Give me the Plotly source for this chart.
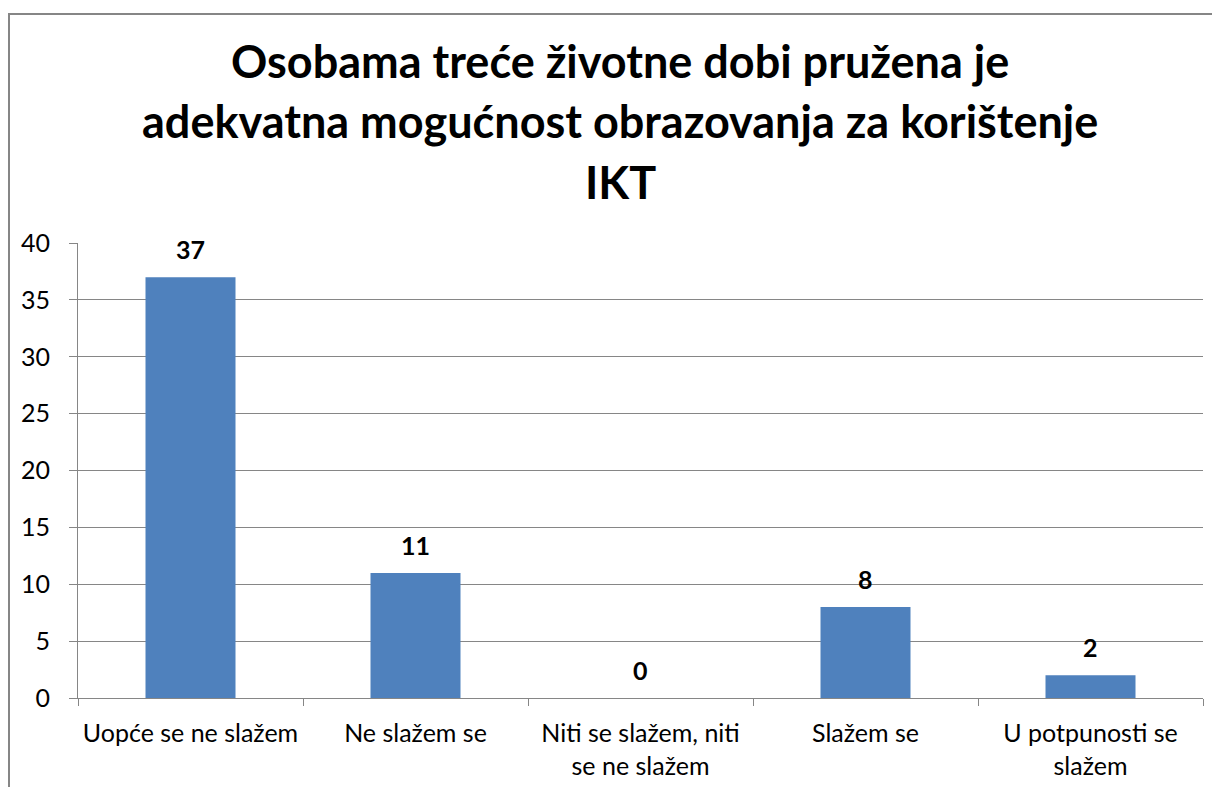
import plotly.graph_objects as go

categories = ["Uopće se ne slažem", "Ne slažem se", "Niti se slažem, niti<br>se ne slažem", "Slažem se", "U potpunosti se<br>slažem"]
values = [37, 11, 0, 8, 2]
title_lines = ["Osobama treće životne dobi pružena je", "adekvatna mogućnost obrazovanja za korištenje", "IKT"]
y_ticks = [0, 5, 10, 15, 20, 25, 30, 35, 40]

OFF = 8  # page body margin
W, H = 1220 - OFF, 787 - OFF
# screen-pixel plot area: x 78..1203, y 243..698
L = 78 - OFF
T = 243 - OFF
R = W - (1203 - OFF)
B = H - (698 - OFF)
pw, ph = W - L - R, H - T - B

def px_x(sx):
    return (sx - OFF - L) / pw

def px_y(sy):
    return (H - B - (sy - OFF)) / ph

FONT = "Lato, Open Sans, sans-serif"
GRID = "#868686"

fig = go.Figure()
fig.add_trace(go.Bar(
    x=categories, y=values,
    marker=dict(color="#4F81BD", line=dict(width=0)),
    width=0.4,
    hoverinfo="skip",
))

annotations = []
for c, v in zip(categories, values):
    annotations.append(dict(x=c, y=v, xref="x", yref="y", text=f"<b>{v}</b>",
                            showarrow=False, yanchor="middle", yshift=28,
                            font=dict(family=FONT, size=25, color="#000000")))
for line, yc in zip(title_lines, [61, 121, 182]):
    annotations.append(dict(x=px_x(620), y=px_y(yc), xref="paper", yref="paper",
                            text=f"<b>{line}</b>", showarrow=False,
                            xanchor="center", yanchor="middle",
                            font=dict(family=FONT, size=45, color="#000000")))

fig.update_layout(
    width=W, height=H,
    margin=dict(l=L, r=R, t=T, b=B, autoexpand=False),
    paper_bgcolor="white", plot_bgcolor="white",
    showlegend=False,
    annotations=annotations,
    shapes=[dict(type="rect", xref="paper", yref="paper",
                 x0=px_x(9), x1=px_x(1240), y0=px_y(14), y1=px_y(820),
                 line=dict(color="#868686", width=2), fillcolor="rgba(0,0,0,0)", layer="below")],
    xaxis=dict(
        tickfont=dict(family=FONT, size=25, color="#000000"),
        showline=True, linecolor=GRID, linewidth=1,
        ticks="outside", tickson="boundaries", ticklen=7, tickcolor=GRID,
        ticklabelstandoff=13,
        showgrid=False, zeroline=False,
        range=[-0.5, 4.5],
    ),
    yaxis=dict(
        range=[0, 40], tickvals=y_ticks,
        tickfont=dict(family=FONT, size=25, color="#000000"),
        showline=True, linecolor=GRID, linewidth=1,
        ticks="outside", ticklen=8, tickcolor=GRID,
        ticklabelstandoff=14,
        showgrid=True, gridcolor=GRID, gridwidth=1,
        zeroline=False,
    ),
)

fig.write_html("out.html")
